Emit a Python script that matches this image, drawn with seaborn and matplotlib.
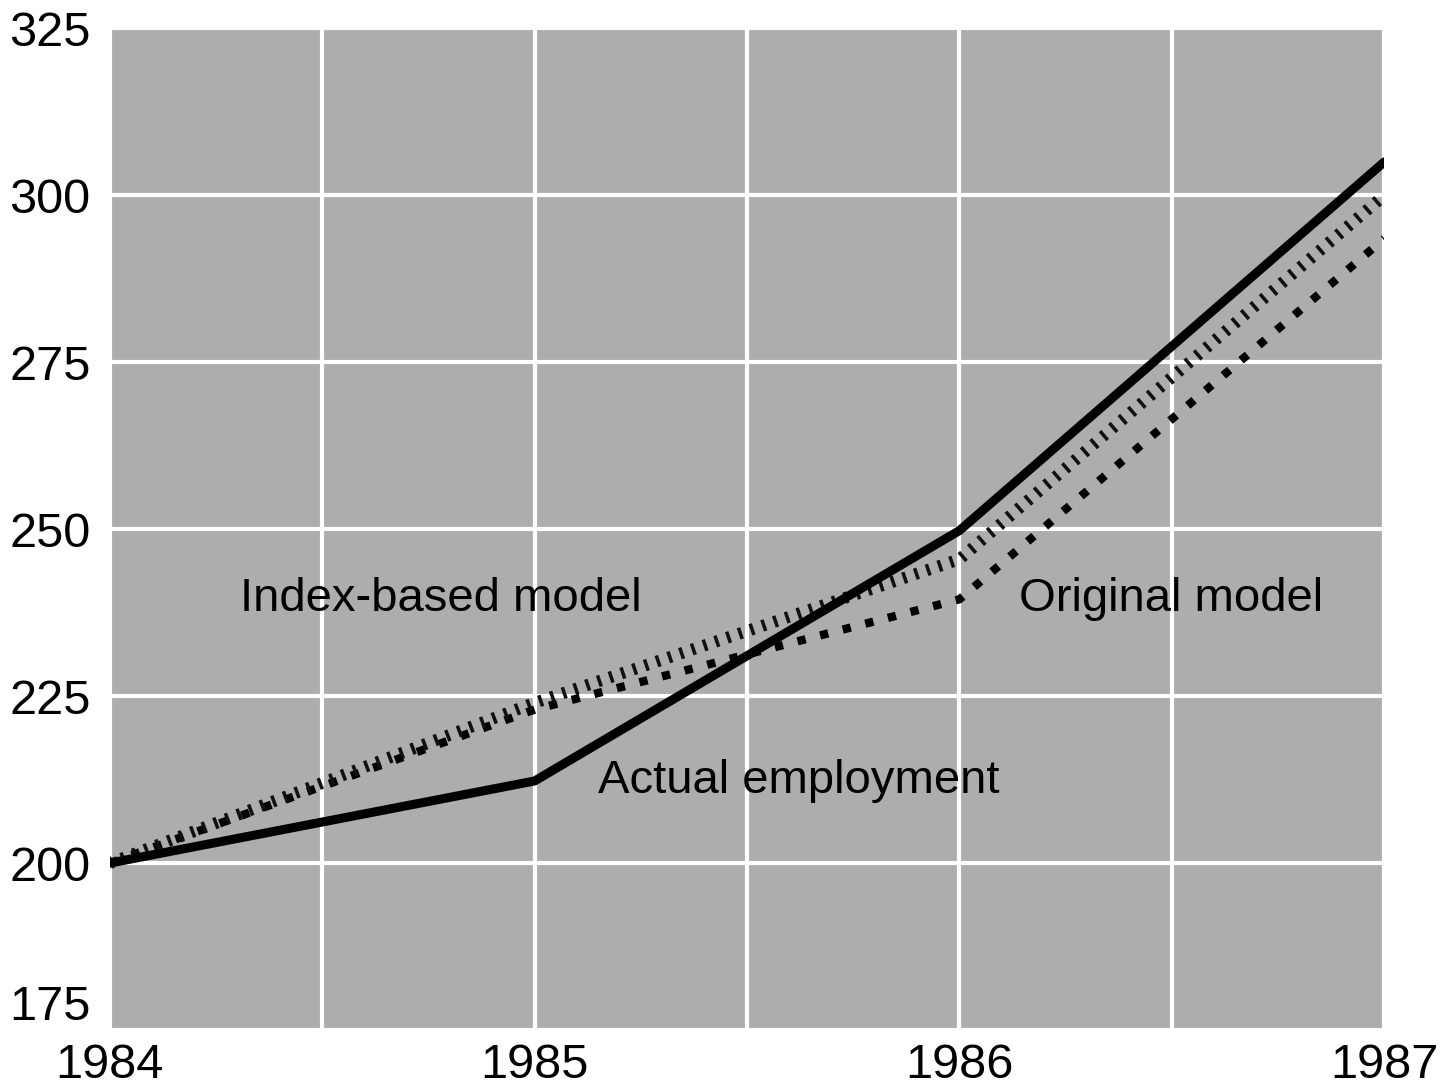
import matplotlib
matplotlib.use('Agg')
import matplotlib.pyplot as plt
import seaborn as sns
import pandas as pd

# Employment (thousands), 1984-1987
years = [1984, 1985, 1986, 1987]
actual = [200, 212.3, 249.8, 305]
index_model = [200, 224, 245.5, 300]
original_model = [200, 223, 239.5, 293.5]

y_ticks = [175, 200, 225, 250, 275, 300, 325]
half_years = [1984.5, 1985.5, 1986.5]

df = pd.DataFrame({'year': years, 'actual': actual,
                   'index': index_model, 'original': original_model})

sns.set_theme(style='darkgrid', rc={
    'axes.facecolor': '#adadad',
    'grid.color': 'white',
    'grid.linewidth': 3,
    'text.color': 'black',
    'xtick.color': 'black',
    'ytick.color': 'black',
})
plt.rcParams['font.family'] = ['Liberation Sans', 'DejaVu Sans']

fig = plt.figure(figsize=(14.45, 10.9), dpi=100)
ax = fig.add_axes([0.076, 0.055, 0.882, 0.919])

sns.lineplot(data=df, x='year', y='original', ax=ax, color='black',
             linewidth=6, linestyle=(0, (1.0, 1.8)), zorder=3)
sns.lineplot(data=df, x='year', y='index', ax=ax, color='#111111',
             linewidth=8.5, linestyle=(0, (0.3, 0.75)), zorder=4)
sns.lineplot(data=df, x='year', y='actual', ax=ax, color='black',
             linewidth=6.5, zorder=5)

ax.text(1984.306, 239.5, 'Index-based model', fontsize=34, va='center',
        ha='left', color='black')
ax.text(1986.14, 239.5, 'Original model', fontsize=34, va='center',
        ha='left', color='black')
ax.text(1985.15, 212.3, 'Actual employment', fontsize=34, va='center',
        ha='left', color='black')

ax.set_xlim(1984, 1987)
ax.set_ylim(175, 325)
ax.set_xticks(years)
ax.set_xticklabels([str(y) for y in years])
ax.set_xticks(half_years, minor=True)
ax.set_yticks(y_ticks)
ax.grid(which='both', axis='x', color='white', linewidth=3)
ax.grid(which='major', axis='y', color='white', linewidth=3)
ax.tick_params(axis='both', which='both', length=0, labelsize=35)
ax.tick_params(axis='x', pad=9)
ax.tick_params(axis='y', pad=14)
# lowest y label sits above its line, as in the source
ax.get_yticklabels()[0].set_va('bottom')
ax.set_xlabel('')
ax.set_ylabel('')
for s in ax.spines.values():
    s.set_visible(False)

fig.savefig('out.png', dpi=100)
